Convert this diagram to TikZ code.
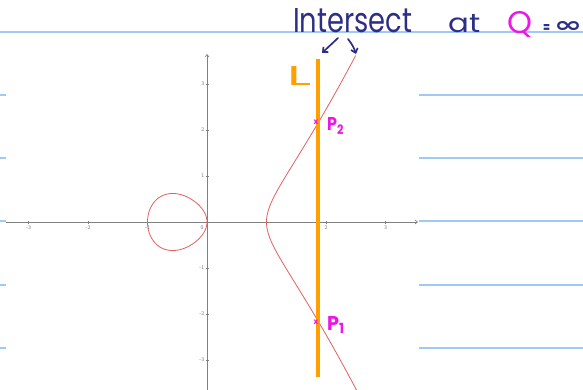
\documentclass[tikz,border=0pt]{standalone}
\usepackage{fontspec}
\newfontfamily\hand{Poppins}
\newfontfamily\djv{DejaVu Sans}
\usetikzlibrary{arrows.meta}
\definecolor{navy}{RGB}{44,46,135}
\definecolor{magen}{RGB}{240,20,230}
\definecolor{orng}{RGB}{255,160,0}
\definecolor{curvered}{RGB}{228,95,95}
\definecolor{rulecol}{RGB}{160,202,245}
\definecolor{axisgray}{RGB}{128,128,128}
\definecolor{labgray}{RGB}{120,120,120}
\begin{document}
\begin{tikzpicture}[x=1pt,y=-1pt,
  ruleline/.style={rulecol,line width=1.6pt},
  axisline/.style={axisgray,line width=0.9pt},
  tickmark/.style={axisgray,line width=0.5pt},
  ticklab/.style={text=labgray,font=\sffamily\fontsize{5.5}{5.5}\selectfont,inner sep=0pt},
  curvestyle/.style={curvered,line width=0.8pt},
  lineL/.style={orng,line width=3.4pt},
  handtext/.style={inner sep=0pt,anchor=base west,font=\hand},
  handarrow/.style={navy,line width=1.7pt,line cap=round,line join=round,-{Straight Barb[length=4pt,width=7pt,line width=1.7pt]}},
  xmark/.style={text=magen,inner sep=0pt,font=\hand\bfseries\fontsize{8}{8}\selectfont}]
\useasboundingbox[fill=white] (0,0) rectangle (583,390);
% ruled lines
\draw[ruleline] (0,32) -- (583,32);
\foreach \yy in {95,158,221,285,348}{
  \draw[ruleline] (0,\yy) -- (6,\yy);
  \draw[ruleline] (419,\yy) -- (583,\yy);
}
% axes
\draw[axisline,-{Straight Barb[length=2.5pt,width=4pt,line width=0.6pt]}] (6,222) -- (418,222);
\draw[axisline,-{Straight Barb[length=2.5pt,width=4pt,line width=0.6pt]}] (207,392) -- (207,54);
\foreach \k in {-3,-2,-1,1,2,3}{
  \draw[tickmark] ({207+59.5*\k},220.5) -- ({207+59.5*\k},223.5);
  \draw[tickmark] (205.5,{222-46*\k}) -- (208.5,{222-46*\k});
}
\foreach \k/\nm in {-3/xa,-2/xb,-1/xc,2/xe,3/xf}{
  \node[ticklab] (\nm) at ({207+59.5*\k},227.5) {\k};
}
\node[ticklab] (xo) at (202,227.5) {0};
\foreach \k/\nm in {3/ya,2/yb,1/yc,-1/ye,-2/yf,-3/yg}{
  \node[ticklab,anchor=east] (\nm) at (204.5,{222-46*\k}) {\k};
}
% curve y^2 = x^3 - x
\begin{scope}[shift={(207,222)},x=59.5pt,y=46pt]
  \draw[curvestyle] plot[domain=0:180,samples=120,smooth,variable=\a]
    ({-1*pow(sin(\a),2)},{sin(\a)*cos(\a)*sqrt(1+pow(sin(\a),2))}) -- cycle;
  \draw[curvestyle] plot[domain=-1.26:1.2247,samples=120,smooth,variable=\t]
    ({1+\t*\t},{\t*sqrt((1+\t*\t)*(2+\t*\t))});
\end{scope}
% vertical line L
\draw[lineL] (318,59) -- (318,377);
% handwritten texts
\node[handtext,text=navy] (intersect) at (293,33) {\resizebox{119pt}{24pt}{Intersect}};
\node[handtext,text=navy] (at) at (448,33) {\resizebox{32pt}{18pt}{at}};
\node[handtext,text=magen] (q) at (507,34) {\resizebox{25pt}{22pt}{Q}};
\node[handtext,text=navy,font=\hand\bfseries] (eq) at (543,33) {\resizebox{7pt}{8pt}{=}};
\node[handtext,text=navy,font=\djv\bfseries] (inf) at (554,33) {\resizebox{28pt}{11pt}{∞}};
\node[handtext,text=orng] (L) at (287,86) {\resizebox{24pt}{19pt}{L}};
\node[handtext,text=magen,font=\hand\bfseries] (p2) at (327,131) {\resizebox{17pt}{13pt}{P\textsubscript{2}}};
\node[handtext,text=magen,font=\hand\bfseries] (p1) at (327,330) {\resizebox{18pt}{14pt}{P\textsubscript{1}}};
\node[xmark] (x2) at (316,122) {x};
\node[xmark] (x1) at (316,322) {x};
% arrows
\coordinate (a1s) at (338,38);
\coordinate (a1e) at (322,53);
\coordinate (a2s) at (348,39);
\coordinate (a2e) at (356,54);
\draw[handarrow] (a1s) -- (a1e);
\draw[handarrow] (a2s) to[bend left=10] (a2e);
\end{tikzpicture}
\end{document}
